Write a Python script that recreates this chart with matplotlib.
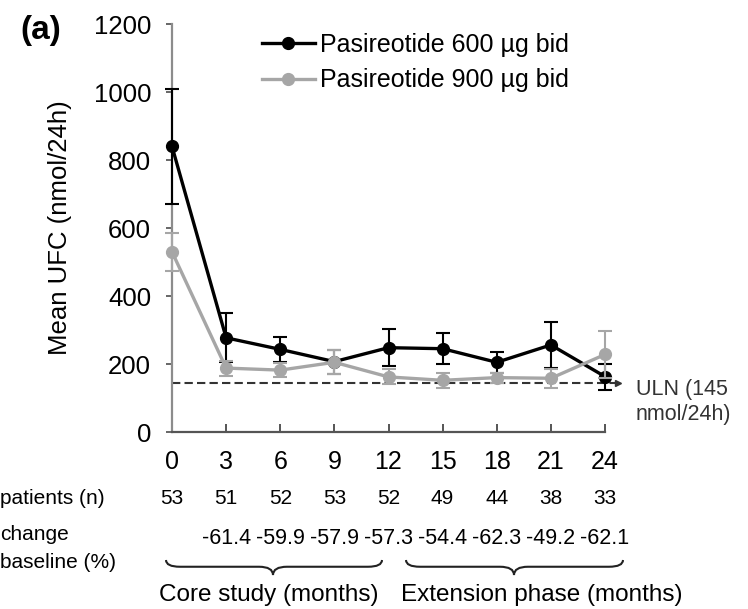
"""Mean UFC over 24 months for two pasireotide doses, with the n / % change rows beneath."""

import matplotlib
matplotlib.use("Agg")
import matplotlib.pyplot as plt
from matplotlib.lines import Line2D
from matplotlib.path import Path
from matplotlib.patches import PathPatch

plt.rcParams["font.family"] = ["Liberation Sans", "DejaVu Sans"]

months = [0, 3, 6, 9, 12, 15, 18, 21, 24]
ufc_600 = [840, 277, 243, 207, 248, 245, 205, 256, 163]
err_600 = [170, 72, 37, 35, 55, 45, 30, 68, 38]
ufc_900 = [530, 188, 182, 205, 162, 152, 160, 158, 228]
err_900 = [55, 22, 20, 35, 22, 22, 15, 28, 70]
uln = 145
n_patients = [53, 51, 52, 53, 52, 49, 44, 38, 33]
pct_change = [None, -61.4, -59.9, -57.9, -57.3, -54.4, -62.3, -49.2, -62.1]
label_600 = "Pasireotide 600 µg bid"
label_900 = "Pasireotide 900 µg bid"

W, H = 748, 609
AX_L, AX_R, AX_T, AX_B = 172, 605, 24, 432
BLACK = "#000000"
GREY = "#a6a6a6"


def px(x, y):
    # pixel position (from top-left) -> figure fraction
    return x / W, 1 - y / H


def brace(fig, x0, x1, y0, depth, tip=None):
    xm = (x0 + x1) / 2 if tip is None else tip
    ym = y0 + depth * 0.45
    r = 14
    verts = [(x0, y0), (x0, ym), (x0 + r, ym), (xm - r, ym), (xm, ym), (xm, y0 + depth),
             (xm, ym), (xm + r, ym), (x1 - r, ym), (x1, ym), (x1, y0)]
    codes = [Path.MOVETO, Path.CURVE3, Path.CURVE3, Path.LINETO, Path.CURVE3, Path.CURVE3,
             Path.CURVE3, Path.CURVE3, Path.LINETO, Path.CURVE3, Path.CURVE3]
    verts = [px(*v) for v in verts]
    fig.add_artist(PathPatch(Path(verts, codes), fc="none", ec="#222222", lw=1.5,
                             transform=fig.transFigure))


def main():
    fig = plt.figure(figsize=(W / 100, H / 100), dpi=100)
    ax = fig.add_axes([AX_L / W, 1 - AX_B / H, (AX_R - AX_L) / W, (AX_B - AX_T) / H])
    ax_y = lambda ypx: (AX_B - ypx) / (AX_B - AX_T)   # pixel row -> axes fraction

    ax.errorbar(months, ufc_600, yerr=err_600, color=BLACK, lw=2.4, marker="o", ms=8.5,
                elinewidth=1.5, capsize=5, capthick=1.5, zorder=3, clip_on=False)
    ax.errorbar(months, ufc_900, yerr=err_900, color=GREY, lw=2.4, marker="o", ms=8.5,
                elinewidth=1.5, capsize=5, capthick=1.5, zorder=4, clip_on=False)

    ax.plot([0, 24.6], [uln, uln], ls="--", color="#333333", lw=1.5, dashes=(4, 2), clip_on=False, zorder=2)
    ax.plot([24.7], [uln], marker=">", ms=5, color="#333333", clip_on=False)
    ax.text(25.7, uln + 12, "ULN (145\nnmol/24h)", fontsize=15.5, color="#333333",
            va="top", ha="left", linespacing=1.3)

    ax.set_xlim(0, 24)
    ax.set_ylim(0, 1200)
    ax.set_xticks(months)
    ax.set_yticks(range(0, 1201, 200))
    for s in ("top", "right"):
        ax.spines[s].set_visible(False)
    ax.spines["left"].set_color("#8c8c8c")
    ax.spines["left"].set_linewidth(1.6)
    ax.spines["bottom"].set_color("#555555")
    ax.spines["bottom"].set_linewidth(1.6)
    ax.tick_params(axis="y", direction="out", length=4, width=1.4, color="#666666",
                   labelsize=18.5, pad=11)
    ax.tick_params(axis="x", direction="in", length=6, width=1.4, color="#555555",
                   labelsize=18, pad=13)
    ax.set_ylabel("Mean UFC (nmol/24h)", fontsize=18.5)
    ax.yaxis.set_label_coords((72 - AX_L) / (AX_R - AX_L), 0.5)

    handles = [Line2D([], [], color=BLACK, lw=2.4, marker="o", ms=8.5),
               Line2D([], [], color=GREY, lw=2.4, marker="o", ms=8.5)]
    ax.legend(handles, [label_600, label_900], loc="upper left", bbox_to_anchor=px(262, 33),
              bbox_transform=fig.transFigure, frameon=False, fontsize=18, handlelength=2.1,
              handletextpad=0.2, labelspacing=0.45, borderpad=0, borderaxespad=0)

    fig.text(*px(20, 31), "(a)", fontsize=24, fontweight="bold", va="center")

    tr = ax.get_xaxis_transform()
    for m, n, p in zip(months, n_patients, pct_change):
        ax.text(m, ax_y(498), str(n), transform=tr, ha="center", va="center", fontsize=15)
        if p is not None:
            ax.text(m, ax_y(538), f"{p:.1f}", transform=tr, ha="center", va="center",
                    fontsize=15.5)

    fig.text(*px(0, 499), "patients (n)", fontsize=15, va="center", ha="left")
    fig.text(*px(0, 535), "change", fontsize=15, va="center", ha="left")
    fig.text(*px(0, 562), "baseline (%)", fontsize=15, va="center", ha="left")

    brace(fig, 166, 382, 560, 15, tip=273)
    brace(fig, 406, 623, 560, 15, tip=514)
    fig.text(*px(269, 595), "Core study (months)", fontsize=17.5, ha="center", va="center")
    fig.text(*px(542, 595), "Extension phase (months)", fontsize=17.5, ha="center", va="center")

    fig.savefig("out.png", dpi=100)
    plt.close(fig)


if __name__ == "__main__":
    main()
